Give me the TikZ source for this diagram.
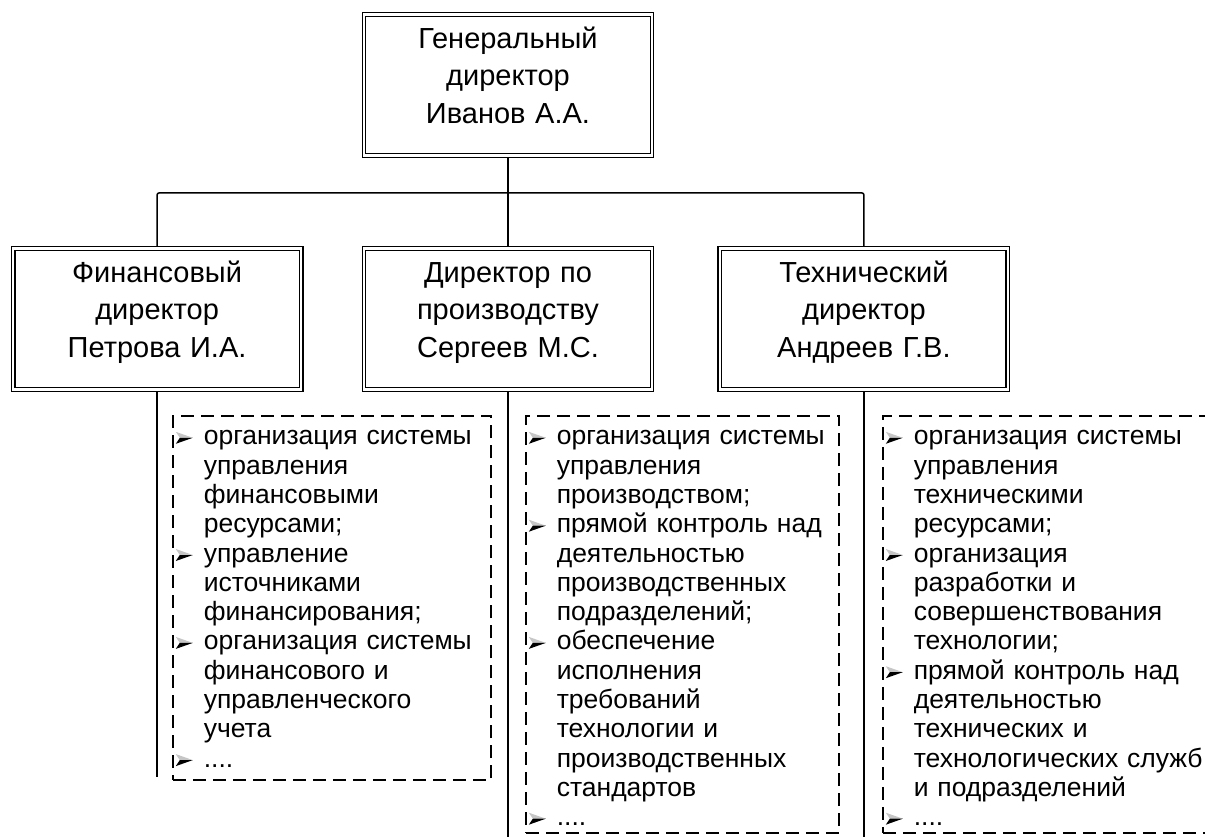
\documentclass[tikz,border=0pt]{standalone}
\usepackage{fontspec}
\setmainfont{Liberation Sans}
\usepackage{tikz}
\usetikzlibrary{positioning}

% arrowhead bullet, upper half light, lower half dark
\newcommand{\bul}{\makebox[28pt][l]{\tikz[baseline=0pt]{%
  \fill[gray!45] (0pt,13pt) -- (17pt,7pt) -- (4pt,7pt) -- cycle;
  \fill[black] (4pt,7pt) -- (17pt,7pt) -- (0pt,1pt) -- cycle;}}}
\newcommand{\cont}{\hspace*{28pt}}

\begin{document}
\begin{tikzpicture}[
  x=1pt, y=-1pt,
  node distance=58pt,
  post/.style={draw, double, double distance=2.5pt, line width=1.2pt, outer sep=2.45pt,
    minimum width=288pt, minimum height=141pt, text width=280pt, align=center,
    text height=21pt, text depth=94pt, font=\fontsize{29}{37.5}\selectfont},
  duties/.style={draw, dash pattern=on 13pt off 7pt, line width=1.6pt, anchor=north west,
    align=left, inner xsep=3pt, inner ysep=8.3pt, text height=20.7pt, font=\fontsize{26.5}{29.3}\selectfont},
  link/.style={line width=1.5pt, rounded corners=2pt}
]
  \useasboundingbox (0,0) rectangle (1205,837);

  % top
  \node[post] (gen) at (508,85) {Генеральный\\директор\\Иванов А.А.};

  % directors
  \node[post, below=88pt of gen] (prod) {Директор по\\производству\\Сергеев М.С.};
  \node[post, left=of prod] (fin) {Финансовый\\директор\\Петрова И.А.};
  \node[post, right=63pt of prod] (tech) {Технический\\директор\\Андреев Г.В.};

  \draw[link] (gen.south) -- ++(0,35) coordinate (bus);
  \draw[link] (fin.north) |- (bus) -| (tech.north);
  \draw[link] (bus) -- (prod.north);

  % duties
  \node[duties, text width=312.4pt, text depth=326.7pt] (finduty) at (172,415) {%
    \bul организация системы\\
    \cont управления\\
    \cont финансовыми\\
    \cont ресурсами;\\
    \bul управление\\
    \cont источниками\\
    \cont финансирования;\\
    \bul организация системы\\
    \cont финансового и\\
    \cont управленческого\\
    \cont учета\\
    \bul ....};
  \node[duties, text width=307.4pt, text depth=379.7pt] (produty) at (525,415) {%
    \bul организация системы\\
    \cont управления\\
    \cont производством;\\
    \bul прямой контроль над\\
    \cont деятельностью\\
    \cont производственных\\
    \cont подразделений;\\
    \bul обеспечение\\
    \cont исполнения\\
    \cont требований\\
    \cont технологии и\\
    \cont производственных\\
    \cont стандартов\\
    \bul ....};
  \node[duties, text width=340pt, text depth=379.7pt] (techduty) at (882,415) {%
    \bul организация системы\\
    \cont управления\\
    \cont техническими\\
    \cont ресурсами;\\
    \bul организация\\
    \cont разработки и\\
    \cont совершенствования\\
    \cont технологии;\\
    \bul прямой контроль над\\
    \cont деятельностью\\
    \cont технических и\\
    \cont технологических служб\\
    \cont и подразделений\\
    \bul ....};

  % lines down
  \coordinate (finend) at (fin.south |- 0,777);
  \coordinate (prodend) at (prod.south |- 0,840);
  \coordinate (techend) at (tech.south |- 0,840);
  \draw[link] (fin.south) -- (finend);
  \draw[link] (prod.south) -- (prodend);
  \draw[link] (tech.south) -- (techend);
\end{tikzpicture}
\end{document}
